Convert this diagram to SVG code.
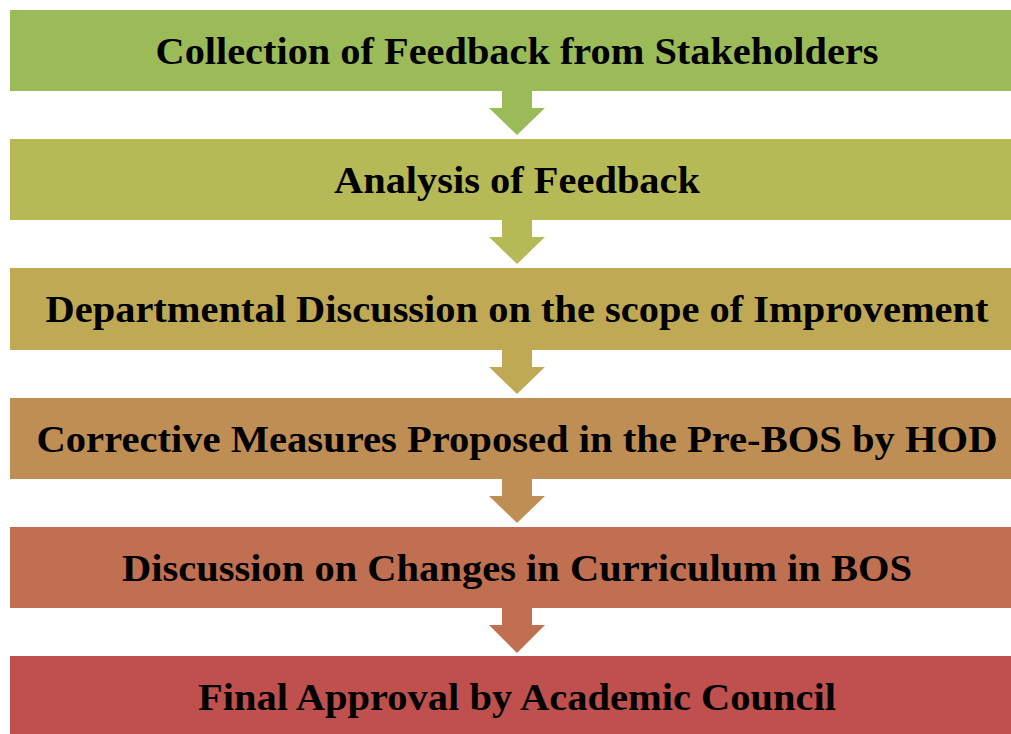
<svg xmlns="http://www.w3.org/2000/svg" width="1011" height="734" viewBox="0 0 1011 734">
<style>
.t{font-family:"Liberation Serif","Times New Roman",serif;font-weight:bold;font-size:38px;fill:#000;text-anchor:middle}
</style>
<rect width="1011" height="734" fill="#fff"/>
<g id="connectors">
<path d="M502 91H532V108H545L517 135L489 108H502Z" fill="#9BBB59"/>
<path d="M502 220H532V237H545L517 264L489 237H502Z" fill="#B6BA56"/>
<path d="M502 350H532V367H545L517 394L489 367H502Z" fill="#BFA955"/>
<path d="M502 479H532V496H545L517 523L489 496H502Z" fill="#BF8E54"/>
<path d="M502 608H532V625H545L517 653L489 625H502Z" fill="#C06F50"/>
</g>
<g id="n1"><rect x="10" y="10" width="1014" height="81" fill="#9BBB59"/><text class="t" x="517" y="64" textLength="723" lengthAdjust="spacingAndGlyphs">Collection of Feedback from Stakeholders</text></g>
<g id="n2"><rect x="10" y="139" width="1014" height="81" fill="#B6BA56"/><text class="t" x="517" y="193" textLength="366" lengthAdjust="spacingAndGlyphs">Analysis of Feedback</text></g>
<g id="n3"><rect x="10" y="268" width="1014" height="82" fill="#BFA955"/><text class="t" x="517" y="322" textLength="943" lengthAdjust="spacingAndGlyphs">Departmental Discussion on the scope of Improvement</text></g>
<g id="n4"><rect x="10" y="398" width="1014" height="81" fill="#BF8E54"/><text class="t" x="517" y="452" textLength="961" lengthAdjust="spacingAndGlyphs">Corrective Measures Proposed in the Pre-BOS by HOD</text></g>
<g id="n5"><rect x="10" y="527" width="1014" height="81" fill="#C06F50"/><text class="t" x="517" y="581" textLength="790" lengthAdjust="spacingAndGlyphs">Discussion on Changes in Curriculum in BOS</text></g>
<g id="n6"><rect x="10" y="656" width="1014" height="78" fill="#C0504D"/><text class="t" x="517" y="710" textLength="638" lengthAdjust="spacingAndGlyphs">Final Approval by Academic Council</text></g>
</svg>
